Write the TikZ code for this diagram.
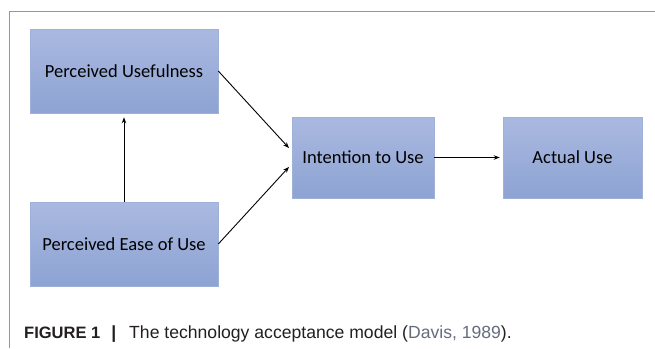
\documentclass[tikz,border=0pt]{standalone}
\usepackage{fontspec}
\setmainfont{Carlito}
\newfontfamily\capfont{Liberation Sans}
\usetikzlibrary{arrows.meta}
\definecolor{boxtop}{RGB}{170,185,224}
\definecolor{boxbot}{RGB}{141,163,211}
\definecolor{boxedge}{RGB}{160,176,216}
\definecolor{framegray}{RGB}{150,150,150}
\definecolor{captext}{RGB}{35,31,32}
\definecolor{citeblue}{RGB}{100,108,125}
\tikzset{
  tambox/.style={rectangle, draw=boxedge, line width=0.6pt, top color=boxtop, bottom color=boxbot, font=\fontsize{18.5}{20}\selectfont, text=black, inner sep=0pt},
  conn/.style={draw=black, line width=0.9pt, -{Stealth[length=6pt,width=4.5pt]}, shorten >=4pt}
}
\begin{document}
\begin{tikzpicture}[x=1pt,y=-1pt]
\useasboundingbox (0,0) rectangle (655,348);
\draw[framegray, line width=0.9pt] (9,348) -- (9,11) -- (655,11);
\node[tambox, minimum width=188pt, minimum height=84pt] (pu) at (124,71) {Perceived Usefulness};
\node[tambox, minimum width=188pt, minimum height=84pt] (peou) at (124,244) {Perceived Ease of Use};
\node[tambox, minimum width=142pt, minimum height=81pt] (iu) at (363,157.5) {Intention to Use};
\node[tambox, minimum width=139pt, minimum height=81pt] (au) at (572.5,157.5) {Actual Use};
\draw[conn] (pu.east) -- ([yshift=6.5pt]iu.west);
\draw[conn] (peou.east) -- ([yshift=-6.5pt]iu.west);
\draw[conn] (peou.north) -- (peou.north |- pu.south);
\draw[conn, shorten >=3pt] (iu.east) -- (au.west);
\node[anchor=base west, inner sep=0pt, font=\capfont\fontsize{17.6}{20}\selectfont, text=captext] (cap) at (24,338) {{\fontsize{16.5}{18}\selectfont\textbf{FIGURE 1}}\hspace{11pt}\textbf{|}\hspace{13pt}The technology acceptance model (\textcolor{citeblue}{Davis, 1989}).};
\end{tikzpicture}
\end{document}
